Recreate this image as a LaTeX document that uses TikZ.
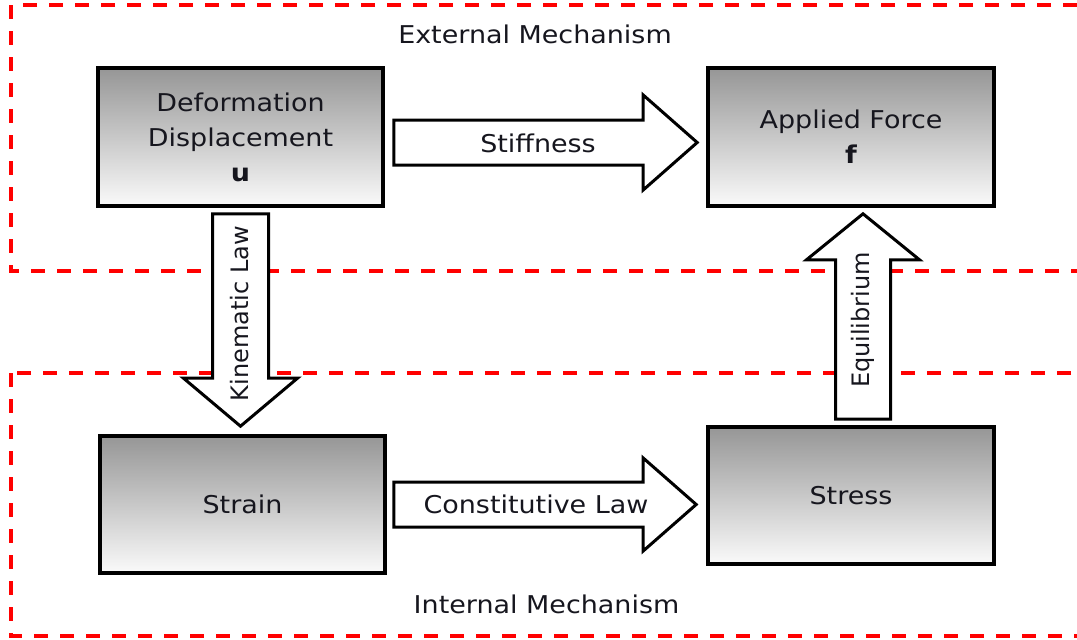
\documentclass[tikz,border=0pt]{standalone}
\usepackage{fontspec}
\setmainfont{DejaVu Sans}[FakeStretch=1.1]
\newfontfamily\uprightfont{DejaVu Sans}
\usetikzlibrary{calc}

\definecolor{boxtop}{RGB}{150,150,150}
\definecolor{boxbot}{RGB}{250,250,250}
\definecolor{ink}{RGB}{22,22,30}
\definecolor{frame}{RGB}{255,0,0}

\tikzset{
  block/.style={draw=black, line width=3.6pt, top color=boxtop, bottom color=boxbot,
    minimum width=285, minimum height=138, inner sep=0pt, align=center,
    text=ink, font=\fontsize{24.5}{35}\selectfont},
  barrow/.style={draw=black, fill=white, line width=3pt, line join=miter},
  zone/.style={draw=frame, line width=3.2pt, dash pattern=on 14pt off 12pt},
  lbl/.style={text=ink, font=\fontsize{24.5}{30}\selectfont, inner sep=0pt, anchor=base},
  vlbl/.style={text=ink, font=\uprightfont\fontsize{24}{30}\selectfont, inner sep=0pt, rotate=90}
}

% block arrow: #1 tail, #2 tip, #3 shaft half-width, #4 head half-width, #5 head length
\newcommand\blockarrow[5]{%
  \coordinate (hb) at ($(#2)!#5!(#1)$);
  \draw[barrow] ($(#1)!#3!90:(#2)$) -- ($(hb)!#3!90:(#2)$) -- ($(hb)!#4!90:(#2)$)
    -- (#2) -- ($(hb)!#4!-90:(#2)$) -- ($(hb)!#3!-90:(#2)$) -- ($(#1)!#3!-90:(#2)$) -- cycle;
}

\begin{document}
\begin{tikzpicture}[x=1pt, y=-1pt]
\useasboundingbox (0,0) rectangle (1077,640);
\clip (0,0) rectangle (1077,640);

% mechanism zones
\draw[zone] (11,5) rectangle (1110,271);
\draw[zone] (11,373) rectangle (1110,636);
\node[lbl] (ext) at (535,43) {External Mechanism};
\node[lbl] (int) at (546.5,613) {Internal Mechanism};

% quantities
\node[block] (def) at (240.5,137) {Deformation\\Displacement\\\textbf{u}};
\node[block, minimum width=286] (af) at (851,137) {Applied Force\\\textbf{f}};
\node[block, minimum height=137] (strain) at (242.5,504.5) {Strain};
\node[block, minimum width=286, minimum height=137] (stress) at (851,495.5) {Stress};

% stiffness
\coordinate (s-tail) at ($(def.east)+(9,5.5)$);
\coordinate (s-tip) at ($(s-tail -| af.west)+(-9,0)$);
\blockarrow{s-tail}{s-tip}{22.5pt}{47.5pt}{54pt}
\node[lbl] (stiff) at (538,152) {Stiffness};

% constitutive law
\coordinate (c-tail) at ($(strain.east)+(7,0)$);
\coordinate (c-tip) at ($(c-tail -| stress.west)+(-10,0)$);
\blockarrow{c-tail}{c-tip}{22.5pt}{46.5pt}{53pt}
\node[lbl] (const) at (536,513) {Constitutive Law};

% kinematic law
\coordinate (k-tail) at ($(def.south)+(0,6)$);
\coordinate (k-tip) at ($(def.south |- strain.north)+(0,-8)$);
\blockarrow{k-tail}{k-tip}{28pt}{57pt}{48pt}
\node[vlbl] (kin) at (240,313.5) {Kinematic Law};

% equilibrium
\coordinate (e-tail) at ($(stress.north)+(12,-6)$);
\coordinate (e-tip) at ($(af.south)+(12,6)$);
\blockarrow{e-tail}{e-tip}{27.5pt}{56.5pt}{46pt}
\node[vlbl] (equi) at (863,320) {Equilibrium};
\end{tikzpicture}
\end{document}
